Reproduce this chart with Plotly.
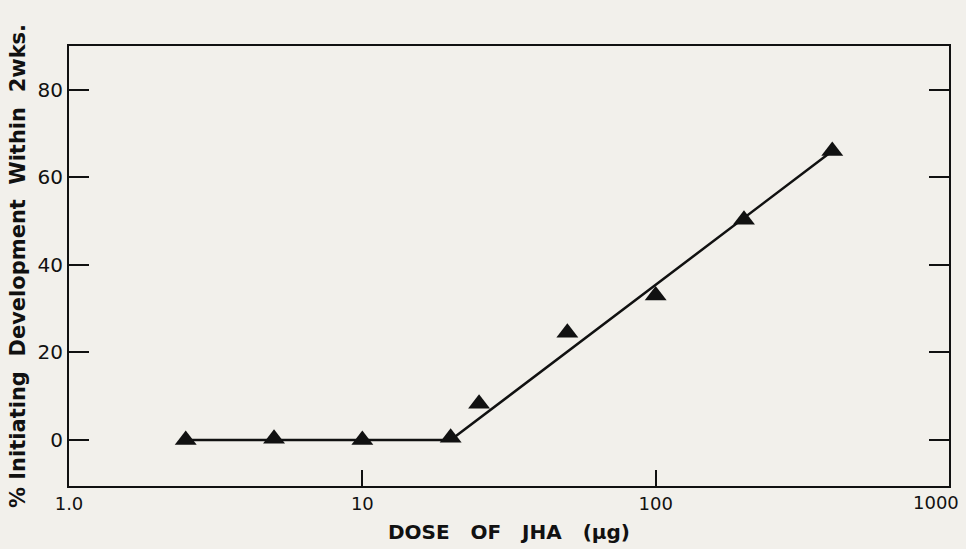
import math
import plotly.graph_objects as go

dose = [2.5, 5, 10, 20, 25, 50, 100, 200, 400]
pct = [0, 0.3, 0, 0.5, 8.3, 24.5, 33, 50.3, 66]

fit_x = [2.5, 20, 400]
fit_y = [0, 0, 66]

x_ticks = [1, 10, 100, 1000]
x_ticklabels = ["1.0", "10", "100", "1000"]
y_ticks = [0, 20, 40, 60, 80]

bg = "#f2f0eb"
ink = "#111111"
font = "DejaVu Sans, Liberation Sans, sans-serif"

fig = go.Figure()
fig.add_trace(go.Scatter(x=fit_x, y=fit_y, mode="lines",
                         line=dict(color=ink, width=2.5), showlegend=False,
                         hoverinfo="skip"))
fig.add_trace(go.Scatter(x=dose, y=pct, mode="markers",
                         marker=dict(symbol="triangle-up", size=19, color=ink,
                                     line=dict(width=0)),
                         showlegend=False))

# last tick label drawn as annotation so it stays inside the page
shown_labels = x_ticklabels[:-1] + [""]
fig.add_annotation(x=math.log10(x_ticks[-1]), y=0, xref="x", yref="paper",
                   text=x_ticklabels[-1], showarrow=False,
                   xanchor="right", yanchor="top", xshift=12, yshift=-4,
                   font=dict(size=18, family=font, color=ink))

sp = "&nbsp;&nbsp;&nbsp;"
fig.update_layout(
    width=966, height=549,
    paper_bgcolor=bg, plot_bgcolor=bg,
    margin=dict(l=69, r=17, t=46, b=63),
    font=dict(family=font, color=ink),
    xaxis=dict(type="log", range=[0, 3], tickvals=x_ticks, ticktext=shown_labels,
               ticks="inside", ticklen=16, tickwidth=2, tickcolor=ink,
               showgrid=False, zeroline=False, showline=True, linecolor=ink,
               linewidth=2, mirror=True, tickfont=dict(size=18),
               automargin=False,
               title=dict(text=f"DOSE{sp}OF{sp}JHA{sp}(µg)",
                          font=dict(size=20, weight="bold"), standoff=12)),
    yaxis=dict(range=[-10.5, 90], tickvals=y_ticks,
               ticks="inside", ticklen=20, tickwidth=2, tickcolor=ink,
               showgrid=False, zeroline=False, showline=True, linecolor=ink,
               linewidth=2, mirror="ticks", tickfont=dict(size=20),
               automargin=False,
               title=dict(text="% Initiating&nbsp;&nbsp;Development&nbsp;&nbsp;Within&nbsp;&nbsp;2wks.",
                          font=dict(size=21, weight="bold"), standoff=6)),
)

fig.write_html("out.html", config={"displayModeBar": False},
               post_script="document.body.style.margin='0';document.body.style.overflow='hidden';")
